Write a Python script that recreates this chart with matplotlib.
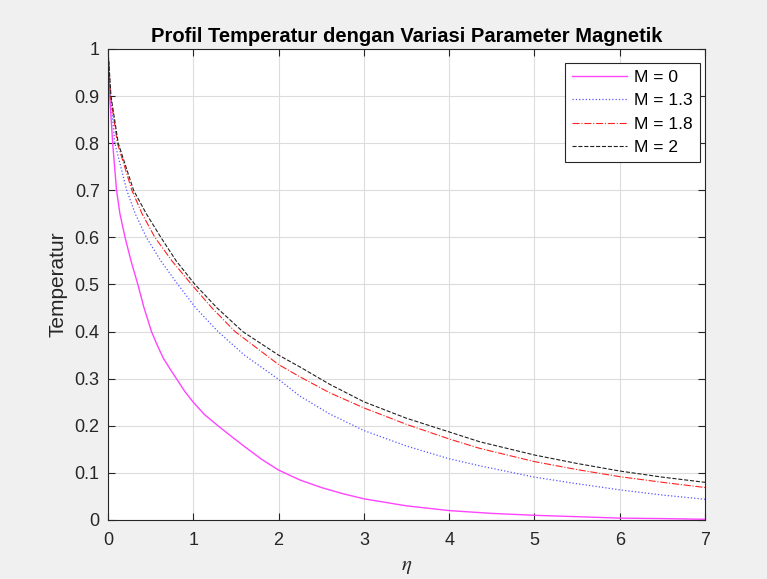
import matplotlib
matplotlib.use('Agg')
import matplotlib.pyplot as plt

# values
eta_m0 = [0, 0.02, 0.055, 0.1, 0.14, 0.2, 0.27, 0.35, 0.42, 0.51, 0.58, 0.65, 0.73, 0.81, 0.9, 1.0, 1.13, 1.29,
          1.45, 1.6, 1.8, 2.0, 2.25, 2.5, 2.75, 3.0, 3.5, 4.0, 4.5, 5.0, 5.5, 6.0, 6.5, 7.0]
temp_m0 = [1.0, 0.9, 0.8, 0.7, 0.65, 0.6, 0.55, 0.5, 0.452, 0.4, 0.37, 0.343, 0.32, 0.298, 0.273, 0.25, 0.224, 0.2,
           0.177, 0.156, 0.129, 0.106, 0.085, 0.069, 0.056, 0.045, 0.03, 0.02, 0.014, 0.01, 0.007, 0.004, 0.003, 0.0015]

eta_m13 = [0, 0.03, 0.08, 0.22, 0.32, 0.45, 0.62, 0.82, 1.03, 1.29, 1.6, 1.99, 2.25, 2.6, 3.0,
           3.5, 4.0, 4.36, 5.0, 5.5, 6.0, 6.5, 7.0]
temp_m13 = [1.0, 0.9, 0.8, 0.7, 0.65, 0.6, 0.55, 0.5, 0.45, 0.4, 0.35, 0.3, 0.263, 0.225, 0.19,
            0.157, 0.13, 0.115, 0.091, 0.077, 0.064, 0.053, 0.044]

eta_m18 = [0, 0.03, 0.11, 0.28, 0.4, 0.55, 0.75, 0.98, 1.22, 1.49, 2.0, 2.25, 2.6, 3.0, 3.5,
           4.0, 4.36, 5.0, 5.5, 6.0, 6.5, 7.0]
temp_m18 = [1.0, 0.9, 0.8, 0.7, 0.65, 0.6, 0.55, 0.5, 0.45, 0.4, 0.33, 0.304, 0.27, 0.238, 0.203,
            0.172, 0.152, 0.124, 0.107, 0.092, 0.08, 0.069]

eta_m2 = [0, 0.035, 0.12, 0.30, 0.45, 0.62, 0.8, 1.02, 1.28, 1.58, 2.0, 2.25, 2.6, 3.0, 3.5,
          4.0, 4.36, 5.0, 5.5, 6.0, 6.5, 7.0]
temp_m2 = [1.0, 0.9, 0.8, 0.7, 0.65, 0.6, 0.55, 0.5, 0.45, 0.4, 0.35, 0.325, 0.288, 0.251, 0.216,
           0.187, 0.166, 0.138, 0.12, 0.104, 0.091, 0.080]

labels = ['M = 0', 'M = 1.3', 'M = 1.8', 'M = 2']

plt.rcParams['font.family'] = ['Liberation Sans', 'DejaVu Sans']
plt.rcParams['mathtext.fontset'] = 'stix'

fig = plt.figure(figsize=(7.67, 5.79), dpi=100, facecolor='#f0f0f0')
ax = fig.add_axes([0.1408, 0.1019, 0.7784, 0.8135])
ax.set_facecolor('white')

ax.plot(eta_m0, temp_m0, '-', color='#ff44ff', lw=1.0, label=labels[0])
ax.plot(eta_m13, temp_m13, ':', color='#5555ff', lw=0.9, label=labels[1])
ax.plot(eta_m18, temp_m18, '-.', color='#ff2222', lw=0.8, label=labels[2])
ax.plot(eta_m2, temp_m2, '--', color='#222222', lw=0.8, label=labels[3])

ax.set_xlim(0, 7)
ax.set_ylim(0, 1)
ax.set_xticks(range(0, 8))
ax.set_yticks([i / 10 for i in range(11)])
ax.set_yticklabels(['0', '0.1', '0.2', '0.3', '0.4', '0.5', '0.6', '0.7', '0.8', '0.9', '1'])
ax.grid(True, color='#dcdcdc', lw=0.8)
ax.set_axisbelow(True)
ax.tick_params(direction='in', top=True, right=True, labelsize=13, colors='#262626',
               length=5, width=0.8)
ax.tick_params(axis='x', pad=8.5)
ax.tick_params(axis='y', pad=6)
for s in ax.spines.values():
    s.set_color('#262626')
    s.set_linewidth(0.8)

ax.set_title('Profil Temperatur dengan Variasi Parameter Magnetik', fontsize=14.5,
             fontweight='bold', color='black', pad=5)
ax.set_ylabel('Temperatur', fontsize=15, color='#262626', labelpad=5)
ax.set_xlabel(r'$\eta$', fontsize=15, color='#262626', labelpad=6)

leg = ax.legend(loc='upper right', bbox_to_anchor=(0.9916, 0.9703), fontsize=12.5,
                fancybox=False, edgecolor='#262626', framealpha=1, borderaxespad=0,
                handlelength=3.2, handletextpad=0.4, labelspacing=0.47, borderpad=0.4)
leg.get_frame().set_linewidth(0.8)

fig.savefig('out.png', dpi=100, facecolor=fig.get_facecolor())
